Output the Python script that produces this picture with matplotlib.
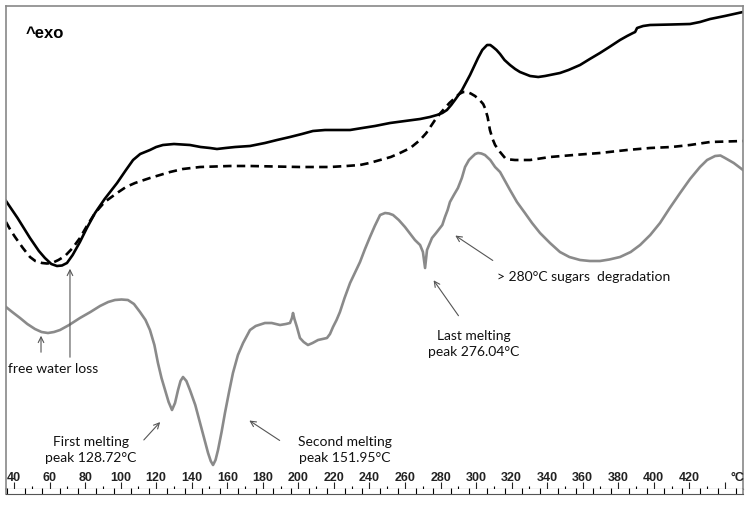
import matplotlib.pyplot as plt
import numpy as np

# temperature (°C) and heat flow (arbitrary units, up = exo)
t_solid = [35.5, 42, 49, 54, 57.4, 61, 64.2, 67, 69.8, 73, 77.1, 81, 85.6, 91, 98, 103,
           107, 111, 116.5, 120, 123.8, 130, 139, 145, 150.3, 154.2, 159, 164.4, 172.8,
           181.2, 188, 195.3, 202, 208.2, 215, 229.1, 236, 243.1, 251.6, 260, 268.5, 274,
           278, 281, 283.6, 286, 288.1, 292.1, 296.6, 301.1, 303.5, 306.2, 308, 309.5,
           311.5, 313.5, 316, 319.1, 322, 324.7, 330.4, 335, 338.8, 347.2, 352, 358.5,
           364, 369.7, 375, 381, 385, 388.3, 389.5, 390.6, 394, 397.9, 410, 420.4, 426,
           431.7, 440, 450.2]
h_solid = [299, 282, 262, 249, 242, 236, 234, 234.5, 237, 245, 258, 272, 287, 301, 317, 330,
           340, 346, 350, 353, 355, 356, 355, 353, 352, 351, 352, 353, 354,
           357, 360, 363, 366, 369, 370, 370, 372, 374, 377, 379, 381, 383,
           385, 387, 390, 395, 400, 410, 425, 442, 450, 455, 455, 453,
           450, 446, 440, 435, 431, 428, 424, 423, 424, 427, 430, 435,
           441, 447, 453, 460, 464, 467, 468, 472, 474, 475, 475.5, 476, 478,
           481, 484, 488]

t_dash = [35.5, 38, 40.6, 45, 49, 52, 55.8, 58.5, 61.4, 65, 68.7, 73, 77.1, 81, 85.6, 91,
          98, 103, 108.1, 116.5, 127.8, 135, 144.7, 161.5, 172.8, 200.9, 217.8, 227,
          234.7, 240, 246, 252, 257.2, 263, 268.5, 272, 276.9, 280, 282.5, 285, 288.1,
          290.5, 292.7, 295, 297, 299.4, 302, 304, 305, 306.5, 307.8, 309.3, 310.7,
          313.5, 316.3, 319, 321.9, 330.4, 341.6, 355, 369.7, 385, 397.9, 410, 420.4,
          431.7, 450.2]
h_dash = [278, 270, 263, 252, 243, 239, 237, 236.5, 237, 240, 244, 252, 262, 274, 287, 298,
          307, 313, 317, 322, 328, 331, 333, 334, 334, 333, 333, 334,
          335, 337, 340, 343, 347, 352, 360, 367, 380, 387, 392, 397, 402,
          406, 408, 408, 406.5, 404, 400, 396, 392, 383, 370, 361, 355,
          348, 342, 340.5, 340, 340, 343, 345, 347, 350, 352, 353, 355,
          358, 359]

t_gray = [35.5, 39, 43.4, 47.5, 51.8, 55.5, 59.1, 62.5, 65.9, 71, 77.1, 83, 88.4, 93, 96.8,
          100.5, 104.1, 107.5, 110.9, 114, 116.5, 119, 121, 123, 125, 127, 128.9, 130.6,
          132.3, 133.7, 135.1, 137, 139, 142, 144.7, 147, 149.2, 150.7, 152, 153.4, 154.8,
          156.8, 158.7, 161, 163.2, 166, 168.9, 172.8, 176, 181.2, 185, 189.7, 193, 195.3,
          196.4, 197, 197.8, 199.2, 200.9, 203, 205.4, 208, 211.1, 213.5, 216.1, 217.8,
          219.5, 221.5, 223.4, 226, 229.1, 232, 234.7, 237.5, 240.3, 243, 246, 248.8, 251,
          253.3, 256.5, 260, 263, 265.6, 268.5, 270.1, 271.3, 272.4, 273.8, 275.2, 277.5,
          279.7, 281, 282.5, 284, 285.3, 287.5, 289.8, 292, 293.8, 296, 297.7, 299.5,
          301.1, 303, 305, 308, 310.7, 313.5, 316, 319.1, 323, 327.5, 331.5, 336, 341.6,
          347.2, 352.5, 358.5, 364, 369.7, 375, 381, 387, 392.3, 398, 403.5, 409, 414.8,
          420.4, 426, 430, 434.5, 437.5, 440.1, 445, 450.2]
h_gray = [193, 188, 182, 176, 171, 168, 167, 168, 170, 175, 182, 188, 194, 198, 200,
          200.5, 200, 196, 188, 180, 170, 155, 137, 122, 110, 98, 90, 97,
          110, 119, 123, 119, 110, 95, 77, 62, 47, 39, 35, 40, 50,
          68, 87, 108, 127, 145, 157, 170, 174, 177, 177, 175, 176, 177,
          182, 187, 181, 173, 162, 158, 155, 157, 160, 161, 162, 166,
          173, 180, 188, 202, 217, 228, 238, 251, 263, 274, 285, 287, 286.5,
          285, 280, 273, 266, 260, 255, 248, 232, 250, 256, 262, 267,
          272, 275, 283, 290, 298, 305, 312, 322, 333, 340, 343, 346,
          347, 346.5, 345, 340, 333, 328, 320, 310, 298, 287, 277, 267, 257,
          248, 243, 240, 239, 239, 240.5, 243, 248, 255, 265, 277, 292, 307,
          321, 333, 340, 344, 344.5, 342, 337, 330]

major_ticks = np.arange(40, 441, 20)
tick_labels = [str(v) for v in major_ticks[:-1]] + ['']

fig = plt.figure(figsize=(7.51, 5.05), dpi=100)
ax = fig.add_axes([6/751, 16/505, 737/751, 483/505])

ax.plot(t_solid, h_solid, color='black', lw=1.9, solid_joinstyle='round')
ax.plot(t_dash, h_dash, color='black', lw=1.9, dashes=(3.2, 2.0))
ax.plot(t_gray, h_gray, color='#8a8a8a', lw=1.9, solid_joinstyle='round')

ax.set_xlim(35.5, 450.2)
ax.set_ylim(11, 494)
ax.set_yticks([])
ax.set_xticks(major_ticks)
ax.set_xticklabels(tick_labels)
ax.set_xticks(np.arange(50, 441, 20), minor=True)
ax.tick_params(axis='x', which='major', direction='in', length=5, width=0.8,
               pad=-12, labelsize=9, colors='#222222')
ax.tick_params(axis='x', which='minor', direction='in', length=2.5, width=0.8)
for lab in ax.get_xticklabels():
    lab.set_fontweight('bold')
    lab.set_family('Liberation Sans')
for s in ['top', 'left', 'right']:
    ax.spines[s].set_color('#888888')
    ax.spines[s].set_linewidth(1.2)
ax.spines['bottom'].set_color('#333333')
ax.spines['bottom'].set_linewidth(0.8)

ax.text(451, 22, '°C', ha='right', va='center', fontsize=9, fontweight='bold',
        family='Liberation Sans', color='#222222')
ax.text(46.5, 467, '^exo', ha='left', va='center', fontsize=12, fontweight='bold',
        family='Liberation Sans')

# ruler strip under the axis
band = fig.add_axes([6/751, 11/505, 737/751, 5/505])
band.set_xlim(35.5, 450.2)
band.set_yticks([])
band.set_xticks(np.arange(36, 450, 10))
band.tick_params(axis='x', direction='in', length=4, width=0.8, labelbottom=False)
for s in ['left', 'right']:
    band.spines[s].set_color('#888888')
    band.spines[s].set_linewidth(1.2)
band.spines['top'].set_visible(False)
band.spines['bottom'].set_color('#555555')

txt = dict(fontsize=10, family='Lato', color='#111111')
arr = dict(arrowstyle='->', color='#555555', lw=0.8)
ax.text(61.9, 131, 'free water loss', ha='center', va='center', **txt)
ax.annotate('', xy=(55.2, 167), xytext=(55.2, 145), arrowprops=arr)
ax.annotate('', xy=(71.5, 234), xytext=(71.5, 140), arrowprops=arr)
ax.text(83.3, 50, 'First melting\npeak 128.72°C', ha='center', va='center',
        linespacing=1.3, **txt)
ax.annotate('', xy=(123.3, 80), xytext=(112.0, 58), arrowprops=arr)
ax.text(226.3, 50, 'Second melting\npeak 151.95°C', ha='center', va='center',
        linespacing=1.3, **txt)
ax.annotate('', xy=(171.1, 81), xytext=(190.8, 58), arrowprops=arr)
ax.text(298.8, 156, 'Last melting\npeak 276.04°C', ha='center', va='center',
        linespacing=1.3, **txt)
ax.annotate('', xy=(275.2, 222), xytext=(291.0, 182), arrowprops=arr)
ax.text(311.8, 223, '> 280°C sugars  degradation', ha='left', va='center', **txt)
ax.annotate('', xy=(287.0, 266), xytext=(310.7, 238), arrowprops=arr)

fig.savefig('out.png', dpi=100)
